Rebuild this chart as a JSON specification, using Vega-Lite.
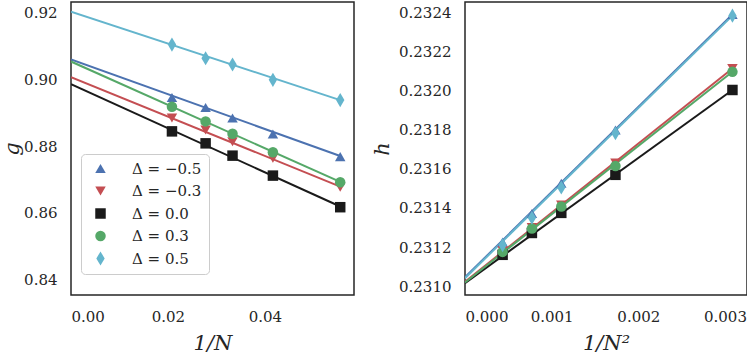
{
  "$schema": "https://vega.github.io/schema/vega-lite/v6.json",
  "background": "white",
  "padding": {"left": 0, "top": 1, "right": 0, "bottom": 0},
  "bounds": "flush",
  "spacing": 111,
  "config": {
    "view": {"stroke": "#262626", "strokeWidth": 1.5},
    "axis": {"grid": false, "ticks": false, "domain": false, "labelFont": "DejaVu Serif", "labelFontSize": 15, "labelColor": "#262626", "titleFont": "DejaVu Serif", "titleFontSize": 21, "titleFontWeight": "normal", "titleFontStyle": "italic", "titleColor": "#262626", "labelPadding": 14},
    "legend": {"orient": "none", "legendX": 10, "legendY": 152, "title": null, "labelFont": "DejaVu Serif", "labelFontSize": 15, "labelColor": "#262626", "symbolSize": 110, "padding": 7, "rowPadding": 6.5, "symbolOffset": 5, "labelOffset": 24, "fillColor": "rgba(255,255,255,0.8)", "strokeColor": "#cccccc", "cornerRadius": 4, "symbolStrokeWidth": 0, "symbolOpacity": 1}
  },
  "datasets": {
    "fits": [
      {"panel": "g", "label": "Δ = −0.5", "x": 0, "y": 0.9060},
      {"panel": "g", "label": "Δ = −0.5", "x": 0.055556, "y": 0.8770},
      {"panel": "g", "label": "Δ = −0.3", "x": 0, "y": 0.9007},
      {"panel": "g", "label": "Δ = −0.3", "x": 0.055556, "y": 0.8678},
      {"panel": "g", "label": "Δ = 0.0", "x": 0, "y": 0.8986},
      {"panel": "g", "label": "Δ = 0.0", "x": 0.055556, "y": 0.8618},
      {"panel": "g", "label": "Δ = 0.3", "x": 0, "y": 0.9054},
      {"panel": "g", "label": "Δ = 0.3", "x": 0.055556, "y": 0.8692},
      {"panel": "g", "label": "Δ = 0.5", "x": 0, "y": 0.9204},
      {"panel": "g", "label": "Δ = 0.5", "x": 0.055556, "y": 0.8938},
      {"panel": "h", "label": "Δ = −0.5", "x": 0, "y": 0.231045},
      {"panel": "h", "label": "Δ = −0.5", "x": 0.003086, "y": 0.232392},
      {"panel": "h", "label": "Δ = −0.3", "x": 0, "y": 0.231022},
      {"panel": "h", "label": "Δ = −0.3", "x": 0.003086, "y": 0.232115},
      {"panel": "h", "label": "Δ = 0.0", "x": 0, "y": 0.231015},
      {"panel": "h", "label": "Δ = 0.0", "x": 0.003086, "y": 0.232005},
      {"panel": "h", "label": "Δ = 0.3", "x": 0, "y": 0.231018},
      {"panel": "h", "label": "Δ = 0.3", "x": 0.003086, "y": 0.232098},
      {"panel": "h", "label": "Δ = 0.5", "x": 0, "y": 0.231040},
      {"panel": "h", "label": "Δ = 0.5", "x": 0.003086, "y": 0.232386}
    ],
    "pts": [
      {"panel": "g", "label": "Δ = −0.5", "N": 48, "x": 0.020833, "y": 0.8946},
      {"panel": "g", "label": "Δ = −0.5", "N": 36, "x": 0.027778, "y": 0.8916},
      {"panel": "g", "label": "Δ = −0.5", "N": 30, "x": 0.033333, "y": 0.8884},
      {"panel": "g", "label": "Δ = −0.5", "N": 24, "x": 0.041667, "y": 0.8836},
      {"panel": "g", "label": "Δ = −0.5", "N": 18, "x": 0.055556, "y": 0.8768},
      {"panel": "g", "label": "Δ = −0.3", "N": 48, "x": 0.020833, "y": 0.8884},
      {"panel": "g", "label": "Δ = −0.3", "N": 36, "x": 0.027778, "y": 0.8848},
      {"panel": "g", "label": "Δ = −0.3", "N": 30, "x": 0.033333, "y": 0.8813},
      {"panel": "g", "label": "Δ = −0.3", "N": 24, "x": 0.041667, "y": 0.8763},
      {"panel": "g", "label": "Δ = −0.3", "N": 18, "x": 0.055556, "y": 0.8676},
      {"panel": "g", "label": "Δ = 0.0", "N": 48, "x": 0.020833, "y": 0.8844},
      {"panel": "g", "label": "Δ = 0.0", "N": 36, "x": 0.027778, "y": 0.8808},
      {"panel": "g", "label": "Δ = 0.0", "N": 30, "x": 0.033333, "y": 0.8771},
      {"panel": "g", "label": "Δ = 0.0", "N": 24, "x": 0.041667, "y": 0.8711},
      {"panel": "g", "label": "Δ = 0.0", "N": 18, "x": 0.055556, "y": 0.8616},
      {"panel": "g", "label": "Δ = 0.3", "N": 48, "x": 0.020833, "y": 0.8918},
      {"panel": "g", "label": "Δ = 0.3", "N": 36, "x": 0.027778, "y": 0.8874},
      {"panel": "g", "label": "Δ = 0.3", "N": 30, "x": 0.033333, "y": 0.8837},
      {"panel": "g", "label": "Δ = 0.3", "N": 24, "x": 0.041667, "y": 0.8781},
      {"panel": "g", "label": "Δ = 0.3", "N": 18, "x": 0.055556, "y": 0.8691},
      {"panel": "g", "label": "Δ = 0.5", "N": 48, "x": 0.020833, "y": 0.9105},
      {"panel": "g", "label": "Δ = 0.5", "N": 36, "x": 0.027778, "y": 0.9064},
      {"panel": "g", "label": "Δ = 0.5", "N": 30, "x": 0.033333, "y": 0.9045},
      {"panel": "g", "label": "Δ = 0.5", "N": 24, "x": 0.041667, "y": 0.8999},
      {"panel": "g", "label": "Δ = 0.5", "N": 18, "x": 0.055556, "y": 0.8938},
      {"panel": "h", "label": "Δ = −0.5", "N": 48, "x": 0.000434, "y": 0.231225},
      {"panel": "h", "label": "Δ = −0.5", "N": 36, "x": 0.000772, "y": 0.231372},
      {"panel": "h", "label": "Δ = −0.5", "N": 30, "x": 0.001111, "y": 0.231527},
      {"panel": "h", "label": "Δ = −0.5", "N": 24, "x": 0.001736, "y": 0.231800},
      {"panel": "h", "label": "Δ = −0.5", "N": 18, "x": 0.003086, "y": 0.232392},
      {"panel": "h", "label": "Δ = −0.3", "N": 48, "x": 0.000434, "y": 0.231180},
      {"panel": "h", "label": "Δ = −0.3", "N": 36, "x": 0.000772, "y": 0.231300},
      {"panel": "h", "label": "Δ = −0.3", "N": 30, "x": 0.001111, "y": 0.231415},
      {"panel": "h", "label": "Δ = −0.3", "N": 24, "x": 0.001736, "y": 0.231630},
      {"panel": "h", "label": "Δ = −0.3", "N": 18, "x": 0.003086, "y": 0.232115},
      {"panel": "h", "label": "Δ = 0.0", "N": 48, "x": 0.000434, "y": 0.231160},
      {"panel": "h", "label": "Δ = 0.0", "N": 36, "x": 0.000772, "y": 0.231272},
      {"panel": "h", "label": "Δ = 0.0", "N": 30, "x": 0.001111, "y": 0.231375},
      {"panel": "h", "label": "Δ = 0.0", "N": 24, "x": 0.001736, "y": 0.231570},
      {"panel": "h", "label": "Δ = 0.0", "N": 18, "x": 0.003086, "y": 0.232005},
      {"panel": "h", "label": "Δ = 0.3", "N": 48, "x": 0.000434, "y": 0.231175},
      {"panel": "h", "label": "Δ = 0.3", "N": 36, "x": 0.000772, "y": 0.231295},
      {"panel": "h", "label": "Δ = 0.3", "N": 30, "x": 0.001111, "y": 0.231408},
      {"panel": "h", "label": "Δ = 0.3", "N": 24, "x": 0.001736, "y": 0.231615},
      {"panel": "h", "label": "Δ = 0.3", "N": 18, "x": 0.003086, "y": 0.232098},
      {"panel": "h", "label": "Δ = 0.5", "N": 48, "x": 0.000434, "y": 0.231210},
      {"panel": "h", "label": "Δ = 0.5", "N": 36, "x": 0.000772, "y": 0.231350},
      {"panel": "h", "label": "Δ = 0.5", "N": 30, "x": 0.001111, "y": 0.231505},
      {"panel": "h", "label": "Δ = 0.5", "N": 24, "x": 0.001736, "y": 0.231783},
      {"panel": "h", "label": "Δ = 0.5", "N": 18, "x": 0.003086, "y": 0.232386}
    ]
  },
  "hconcat": [
    {
      "width": 283,
      "height": 293,
      "layer": [
        {
          "data": {"name": "fits"},
          "transform": [{"filter": "datum.panel == 'g'"}],
          "mark": {"type": "line", "strokeWidth": 2, "clip": true},
          "encoding": {
            "x": {"field": "x", "type": "quantitative", "title": "1/N", "scale": {"domain": [0, 0.0584], "nice": false, "zero": false}, "axis": {"values": [0, 0.02, 0.04], "format": ".2f", "titlePadding": 8}},
            "y": {"field": "y", "type": "quantitative", "title": "g", "scale": {"domain": [0.8352, 0.9233], "nice": false, "zero": false}, "axis": {"values": [0.84, 0.86, 0.88, 0.90, 0.92], "format": ".2f", "titlePadding": 1}},
            "detail": {"field": "label"},
            "color": {"field": "label", "type": "nominal", "scale": {"domain": ["Δ = −0.5", "Δ = −0.3", "Δ = 0.0", "Δ = 0.3", "Δ = 0.5"], "range": ["#4C72B0", "#C44E52", "#1a1a1a", "#55A868", "#64B5CD"]}}
          }
        },
        {
          "data": {"name": "pts"},
          "transform": [{"filter": "datum.panel == 'g'"}],
          "mark": {"type": "point", "filled": true, "size": 110, "opacity": 1},
          "encoding": {
            "x": {"field": "x", "type": "quantitative"},
            "y": {"field": "y", "type": "quantitative"},
            "color": {"field": "label", "type": "nominal"},
            "shape": {"field": "label", "type": "nominal", "scale": {"domain": ["Δ = −0.5", "Δ = −0.3", "Δ = 0.0", "Δ = 0.3", "Δ = 0.5"], "range": ["triangle-up", "triangle-down", "square", "circle", "M0,-1.35L0.8,0L0,1.35L-0.8,0Z"]}}
          }
        }
      ]
    },
    {
      "width": 282,
      "height": 293,
      "layer": [
        {
          "data": {"name": "fits"},
          "transform": [{"filter": "datum.panel == 'h'"}],
          "mark": {"type": "line", "strokeWidth": 2, "clip": true},
          "encoding": {
            "x": {"field": "x", "type": "quantitative", "title": "1/N²", "scale": {"domain": [0, 0.003254], "nice": false, "zero": false}, "axis": {"values": [0, 0.001, 0.002, 0.003], "format": ".3f", "titlePadding": 8}},
            "y": {"field": "y", "type": "quantitative", "title": "h", "scale": {"domain": [0.230954, 0.232456], "nice": false, "zero": false}, "axis": {"values": [0.2310, 0.2312, 0.2314, 0.2316, 0.2318, 0.2320, 0.2322, 0.2324], "format": ".4f", "titlePadding": 6}},
            "color": {"field": "label", "type": "nominal"}
          }
        },
        {
          "data": {"name": "pts"},
          "transform": [{"filter": "datum.panel == 'h'"}],
          "mark": {"type": "point", "filled": true, "size": 110, "opacity": 1},
          "encoding": {
            "x": {"field": "x", "type": "quantitative"},
            "y": {"field": "y", "type": "quantitative"},
            "color": {"field": "label", "type": "nominal"},
            "shape": {"field": "label", "type": "nominal"}
          }
        }
      ]
    }
  ]
}
